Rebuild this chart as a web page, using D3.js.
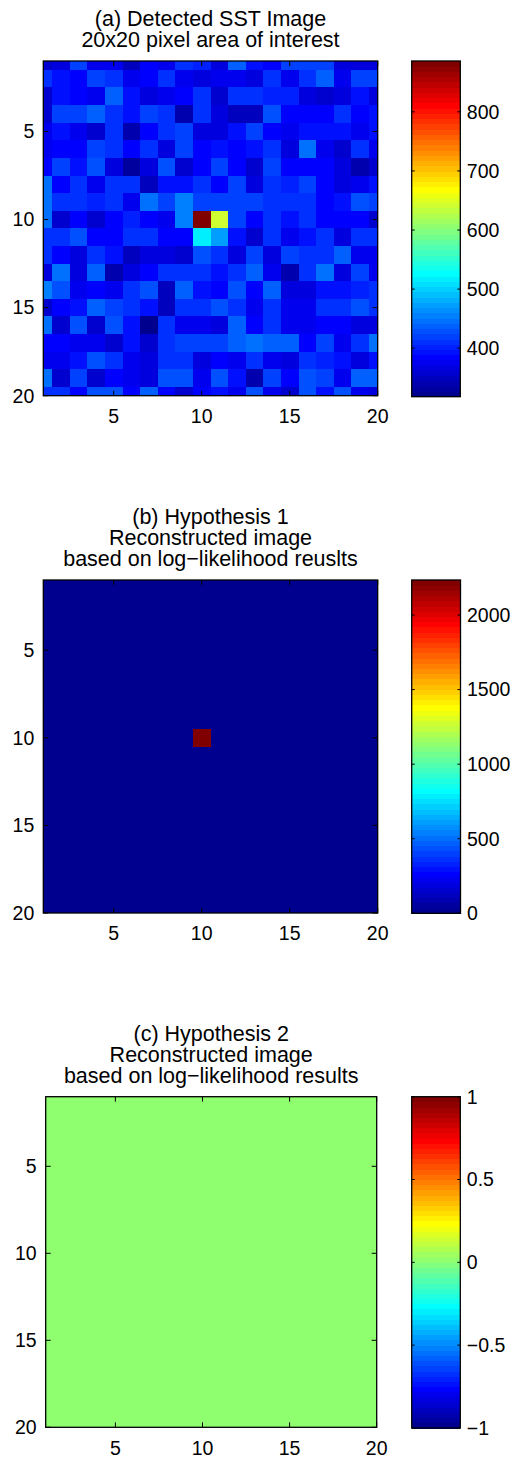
<!DOCTYPE html>
<html>
<head>
<meta charset="utf-8">
<script src="https://cdn.jsdelivr.net/npm/d3@7"></script>
<style>
  html, body { margin: 0; padding: 0; background: #fff; }
  svg { display: block; }
  text { font-family: "Liberation Sans", Arial, Helvetica, sans-serif; fill: #000; }
</style>
</head>
<body>
<svg id="chart" width="514" height="1458"></svg>
<script>
// ---------------- DATA ----------------
const axisTicks = [5, 10, 15, 20];

// (a) Detected SST image, 20 rows x 20 columns (row 1 at top)
const sstRows = [
  [360,370,418,380,375,348,385,375,411,400, 370,441,394,385,418,418,418,370,370,365],
  [407,394,385,418,407,375,385,411,375,370, 380,380,370,411,375,407,441,375,418,424],
  [360,394,385,375,441,394,370,378,385,407, 360,411,411,400,400,365,360,365,394,370],
  [355,424,424,436,407,394,418,407,342,411, 365,348,348,429,385,385,385,407,385,394],
  [375,394,375,360,407,342,385,407,424,365, 370,394,418,382,372,394,394,394,380,394],
  [378,385,385,424,411,385,407,370,424,385, 394,382,394,407,370,447,380,360,411,380],
  [385,418,394,429,370,331,370,429,355,385, 424,382,355,418,382,382,382,370,342,355],
  [447,385,407,375,407,407,348,394,394,411, 385,418,370,411,400,418,385,365,375,394],
  [447,411,411,400,411,375,447,424,456,424, 424,418,424,411,407,411,385,394,429,424],
  [447,355,385,360,385,400,385,380,456,886, 645,418,385,411,394,411,385,385,385,360],
  [407,407,429,385,385,411,411,385,385,517, 474,394,360,407,375,394,411,365,407,407],
  [411,385,370,411,394,348,370,370,360,429, 407,365,418,365,418,411,411,441,375,375],
  [370,447,370,441,338,370,385,407,407,407, 394,407,436,375,338,411,447,365,418,375],
  [456,429,375,385,375,407,429,348,436,394, 385,429,385,436,370,370,394,394,400,407],
  [355,385,394,441,418,411,394,348,411,411, 429,411,380,407,380,380,407,407,429,407],
  [447,355,429,355,429,394,318,411,375,375, 370,441,385,411,375,375,385,385,365,365],
  [385,385,375,375,360,394,360,407,418,418, 418,436,447,436,441,385,418,375,407,447],
  [375,375,394,429,411,375,370,407,407,365, 385,378,407,380,370,407,400,394,370,394],
  [447,360,418,355,385,375,370,429,429,375, 429,394,338,418,385,429,418,375,441,441],
  [407,407,385,429,429,385,441,385,360,385, 394,375,429,380,355,429,394,429,375,370]
];

// (b) Hypothesis 1: zero everywhere except a single target pixel
const hyp1Peak = { row: 10, col: 10, value: 2235 };
// (c) Hypothesis 2: zero everywhere
const hyp2Value = 0;
const hyp2ColorLimits = [-1, 1];

const cbTicksA = [400, 500, 600, 700, 800];
const cbTicksB = [0, 500, 1000, 1500, 2000];
const cbTicksC = [-1, -0.5, 0, 0.5, 1];
const cbLabelsC = ["\u22121", "\u22120.5", "0", "0.5", "1"];

const titlesA = ["(a) Detected SST Image", "20x20 pixel area of interest"];
const titlesB = ["(b) Hypothesis 1", "Reconstructed image", "based on log\u2212likelihood reuslts"];
const titlesC = ["(c) Hypothesis 2", "Reconstructed image", "based on log\u2212likelihood results"];

// ---------------- helpers ----------------
// MATLAB jet(64)
function jet(n) {
  const m = Math.ceil(n / 4);
  const u = [];
  for (let k = 1; k <= m; k++) u.push(k / m);
  for (let k = 1; k <= m - 1; k++) u.push(1);
  for (let k = m; k >= 1; k--) u.push(k / m);
  const gOff = Math.ceil(m / 2) - (n % 4 === 1 ? 1 : 0);
  const get = (i) => (i >= 1 && i <= u.length) ? u[i - 1] : 0;
  const out = [];
  for (let i = 1; i <= n; i++) {
    const g = get(i - gOff), r = get(i - gOff - m), b = get(i - gOff + m);
    out.push(d3.rgb(Math.round(r * 255), Math.round(g * 255), Math.round(b * 255)).formatHex());
  }
  return out;
}
const jet64 = jet(64);

const hyp1Rows = d3.range(20).map(r => d3.range(20).map(c =>
  (r + 1 === hyp1Peak.row && c + 1 === hyp1Peak.col) ? hyp1Peak.value : 0));
const hyp2Rows = d3.range(20).map(() => d3.range(20).map(() => hyp2Value));

function extent2(rows) { return d3.extent(rows.flat()); }

const panels = [
  { id: "a", rows: sstRows, clim: extent2(sstRows), titles: titlesA,
    box: { x0: 43.3, x1: 377.7, y0: 61, y1: 395.7 },
    cb: { x0: 411.7, x1: 460.3, y0: 61, y1: 396.7 },
    cbTicks: cbTicksA, cbLabels: cbTicksA.map(String) },
  { id: "b", rows: hyp1Rows, clim: extent2(hyp1Rows), titles: titlesB,
    box: { x0: 43.3, x1: 377.7, y0: 580, y1: 913 },
    cb: { x0: 411.7, x1: 460.5, y0: 580, y1: 913.3 },
    cbTicks: cbTicksB, cbLabels: cbTicksB.map(String) },
  { id: "c", rows: hyp2Rows, clim: hyp2ColorLimits, titles: titlesC,
    box: { x0: 45.7, x1: 376.7, y0: 1096.7, y1: 1427.3 },
    cb: { x0: 411.7, x1: 460.3, y0: 1096.7, y1: 1428 },
    cbTicks: cbTicksC, cbLabels: cbLabelsC }
];

const svg = d3.select("#chart");
const tickFont = 19.5, titleFont = 21.5, tickLen = 5, cbTickLen = 3;

panels.forEach(p => {
  const g = svg.append("g");
  const x = d3.scaleLinear().domain([1, 20]).range([p.box.x0, p.box.x1]);
  const y = d3.scaleLinear().domain([1, 20]).range([p.box.y0, p.box.y1]);
  const color = d3.scaleQuantize().domain(p.clim).range(jet64);

  const clipId = "clip-" + p.id;
  g.append("clipPath").attr("id", clipId).append("rect")
    .attr("x", p.box.x0).attr("y", p.box.y0)
    .attr("width", p.box.x1 - p.box.x0).attr("height", p.box.y1 - p.box.y0);

  const cells = [];
  p.rows.forEach((row, ri) => row.forEach((v, ci) => cells.push({ r: ri + 1, c: ci + 1, v })));
  g.append("g").attr("clip-path", `url(#${clipId})`)
    .selectAll("rect").data(cells).join("rect")
    .attr("x", d => x(d.c - 0.5))
    .attr("y", d => y(d.r - 0.5))
    .attr("width", d => x(d.c + 0.5) - x(d.c - 0.5) + 0.4)
    .attr("height", d => y(d.r + 0.5) - y(d.r - 0.5) + 0.4)
    .attr("fill", d => color(d.v))
    .attr("shape-rendering", "crispEdges");

  // ticks inside on all sides
  const tk = g.append("g").attr("stroke", "#000").attr("stroke-width", 1);
  axisTicks.forEach(t => {
    tk.append("line").attr("x1", x(t)).attr("x2", x(t)).attr("y1", p.box.y1).attr("y2", p.box.y1 - tickLen);
    tk.append("line").attr("x1", x(t)).attr("x2", x(t)).attr("y1", p.box.y0).attr("y2", p.box.y0 + tickLen);
    tk.append("line").attr("y1", y(t)).attr("y2", y(t)).attr("x1", p.box.x0).attr("x2", p.box.x0 + tickLen);
    tk.append("line").attr("y1", y(t)).attr("y2", y(t)).attr("x1", p.box.x1).attr("x2", p.box.x1 - tickLen);
  });
  g.append("rect").attr("x", p.box.x0).attr("y", p.box.y0)
    .attr("width", p.box.x1 - p.box.x0).attr("height", p.box.y1 - p.box.y0)
    .attr("fill", "none").attr("stroke", "#000").attr("stroke-width", 1.3);

  // tick labels
  g.append("g").selectAll("text").data(axisTicks).join("text")
    .attr("x", d => x(d)).attr("y", p.box.y1 + 20.5).attr("dy", "0.35em")
    .attr("text-anchor", "middle").attr("font-size", tickFont).text(d => d);
  g.append("g").selectAll("text").data(axisTicks).join("text")
    .attr("x", p.box.x0 - 9).attr("y", d => y(d)).attr("dy", "0.35em")
    .attr("text-anchor", "end").attr("font-size", tickFont).text(d => d);

  // titles
  const cx = (p.box.x0 + p.box.x1) / 2;
  const nT = p.titles.length;
  p.titles.forEach((t, i) => {
    g.append("text").attr("x", cx).attr("y", p.box.y0 - 21.5 - (nT - 1 - i) * 21)
      .attr("dy", "0.35em").attr("text-anchor", "middle").attr("font-size", titleFont).text(t);
  });

  // colorbar
  const cy = d3.scaleLinear().domain(p.clim).range([p.cb.y1, p.cb.y0]);
  const bands = d3.range(64);
  const step = (p.clim[1] - p.clim[0]) / 64;
  g.append("g").selectAll("rect").data(bands).join("rect")
    .attr("x", p.cb.x0).attr("width", p.cb.x1 - p.cb.x0)
    .attr("y", k => cy(p.clim[0] + (k + 1) * step))
    .attr("height", k => cy(p.clim[0] + k * step) - cy(p.clim[0] + (k + 1) * step) + 0.5)
    .attr("fill", k => jet64[k]).attr("shape-rendering", "crispEdges");
  const ct = g.append("g").attr("stroke", "#000").attr("stroke-width", 1);
  p.cbTicks.forEach(t => {
    ct.append("line").attr("x1", p.cb.x0).attr("x2", p.cb.x0 + cbTickLen).attr("y1", cy(t)).attr("y2", cy(t));
    ct.append("line").attr("x1", p.cb.x1).attr("x2", p.cb.x1 - cbTickLen).attr("y1", cy(t)).attr("y2", cy(t));
  });
  g.append("rect").attr("x", p.cb.x0).attr("y", p.cb.y0)
    .attr("width", p.cb.x1 - p.cb.x0).attr("height", p.cb.y1 - p.cb.y0)
    .attr("fill", "none").attr("stroke", "#000").attr("stroke-width", 1.3);
  g.append("g").selectAll("text").data(p.cbTicks).join("text")
    .attr("x", p.cb.x1 + 6.5).attr("y", d => cy(d)).attr("dy", "0.35em")
    .attr("text-anchor", "start").attr("font-size", tickFont)
    .text((d, i) => p.cbLabels[i]);
});
</script>
</body>
</html>
